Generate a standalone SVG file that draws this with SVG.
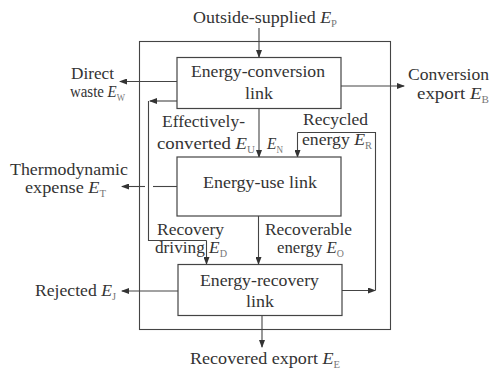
<svg xmlns="http://www.w3.org/2000/svg" width="490" height="370" viewBox="0 0 490 370" font-family="Liberation Serif, Times New Roman, serif">
<defs>
<marker id="ah" markerWidth="8" markerHeight="6" refX="7" refY="3" orient="auto" markerUnits="userSpaceOnUse">
<path d="M0,0 L8,3 L0,6 Z" fill="#333"/>
</marker>
<style>
text{font-family:'Liberation Serif','Times New Roman',serif;font-size:17px;fill:#333}
.e{font-style:italic}
.s{font-size:10px;fill:#777}
.box{fill:#fff;stroke:#444;stroke-width:1.2}
.ln{fill:none;stroke:#444;stroke-width:1.1}
.ar{fill:none;stroke:#444;stroke-width:1.1;marker-end:url(#ah)}
.m{text-anchor:middle}
</style>
</defs>
<rect width="490" height="370" fill="#fff"/>
<rect id="outer" x="139.5" y="41.5" width="251" height="288" class="ln"/>
<g id="connectors">
<path class="ar" d="M259,28 V57"/>
<path class="ar" d="M177,81.5 H120"/>
<path class="ar" d="M341,86 H404"/>
<path class="ar" d="M177,101 H150"/>
<path class="ln" d="M148.5,101 V240.5 H206.5"/>
<path class="ar" d="M206.5,240.5 V264"/>
<path class="ar" d="M259,108 V157"/>
<path class="ar" d="M342,290.5 H375"/>
<path class="ln" d="M375.5,290.5 V132.5 H297.5"/>
<path class="ar" d="M297.5,132.5 V157"/>
<path class="ln" d="M177,186.5 H153"/>
<path class="ar" d="M145,186.5 H122"/>
<path class="ar" d="M258.5,216 V264"/>
<path class="ar" d="M178,291 H122"/>
<path class="ar" d="M262,315 V347"/>
</g>
<g id="conversion">
<rect class="box" x="177" y="57.5" width="164" height="51"/>
<text x="191" y="77" textLength="134" lengthAdjust="spacingAndGlyphs">Energy-conversion</text>
<text x="245" y="99" textLength="28" lengthAdjust="spacingAndGlyphs">link</text>
</g>
<g id="use">
<rect class="box" x="177" y="157" width="164" height="59"/>
<text x="203" y="188" textLength="114" lengthAdjust="spacingAndGlyphs">Energy-use link</text>
</g>
<g id="recovery">
<rect class="box" x="178" y="264.5" width="164" height="51"/>
<text x="200" y="286" textLength="119" lengthAdjust="spacingAndGlyphs">Energy-recovery</text>
<text x="246" y="307" textLength="28" lengthAdjust="spacingAndGlyphs">link</text>
</g>
<g id="labels">
<text x="193" y="23" textLength="144" lengthAdjust="spacingAndGlyphs">Outside-supplied <tspan class="e">E</tspan><tspan class="s" dy="4">P</tspan></text>
<text x="71" y="79" textLength="43" lengthAdjust="spacingAndGlyphs">Direct</text>
<text x="70" y="97" textLength="55" lengthAdjust="spacingAndGlyphs">waste <tspan class="e">E</tspan><tspan class="s" dy="4">W</tspan></text>
<text x="408" y="80" textLength="81" lengthAdjust="spacingAndGlyphs">Conversion</text>
<text x="417" y="99" textLength="72" lengthAdjust="spacingAndGlyphs">export <tspan class="e">E</tspan><tspan class="s" dy="4">B</tspan></text>
<text x="162" y="127" textLength="83" lengthAdjust="spacingAndGlyphs">Effectively-</text>
<text x="157" y="149" textLength="98" lengthAdjust="spacingAndGlyphs">converted <tspan class="e">E</tspan><tspan class="s" dy="4">U</tspan></text>
<text x="267" y="149" textLength="16" lengthAdjust="spacingAndGlyphs"><tspan class="e">E</tspan><tspan class="s" dy="4">N</tspan></text>
<text x="303" y="125" textLength="65" lengthAdjust="spacingAndGlyphs">Recycled</text>
<text x="302" y="145" textLength="70" lengthAdjust="spacingAndGlyphs">energy <tspan class="e">E</tspan><tspan class="s" dy="4">R</tspan></text>
<text x="10" y="175" textLength="118" lengthAdjust="spacingAndGlyphs">Thermodynamic</text>
<text x="25" y="193" textLength="81" lengthAdjust="spacingAndGlyphs">expense <tspan class="e">E</tspan><tspan class="s" dy="4">T</tspan></text>
<text x="157" y="235" textLength="67" lengthAdjust="spacingAndGlyphs">Recovery</text>
<text x="155" y="253" textLength="72" lengthAdjust="spacingAndGlyphs">driving <tspan class="e">E</tspan><tspan class="s" dy="4">D</tspan></text>
<text x="265" y="235" textLength="87" lengthAdjust="spacingAndGlyphs">Recoverable</text>
<text x="277" y="253" textLength="67" lengthAdjust="spacingAndGlyphs">energy <tspan class="e">E</tspan><tspan class="s" dy="4">O</tspan></text>
<text x="35" y="296" textLength="81" lengthAdjust="spacingAndGlyphs">Rejected <tspan class="e">E</tspan><tspan class="s" dy="4">J</tspan></text>
<text x="190" y="364" textLength="150" lengthAdjust="spacingAndGlyphs">Recovered export <tspan class="e">E</tspan><tspan class="s" dy="4">E</tspan></text>
</g>
</svg>
